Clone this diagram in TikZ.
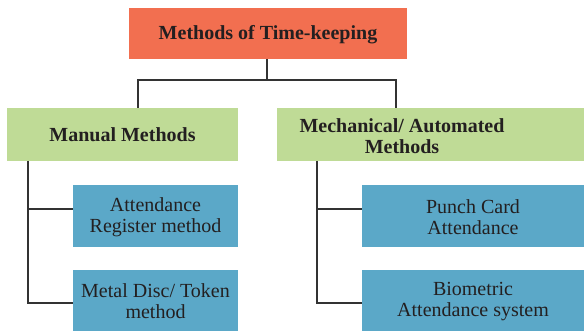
\documentclass[tikz,border=0pt]{standalone}
\usepackage{fontspec}
\setmainfont{Liberation Serif}
\definecolor{topc}{HTML}{F26F50}
\definecolor{grn}{HTML}{BFDB96}
\definecolor{blu}{HTML}{5BA8C8}
\definecolor{txt}{HTML}{231F20}
\definecolor{ln}{HTML}{333333}
\begin{document}
\begin{tikzpicture}[x=1pt,y=-1pt,
  box/.style={inner sep=0pt, align=center, text=txt},
  bold/.style={box, font=\bfseries\fontsize{20}{21}\selectfont},
  reg/.style={box, font=\fontsize{20}{21}\selectfont},
  conn/.style={draw=ln, line width=1.2pt}]
\useasboundingbox (0,0) rectangle (584,331);
% boxes
\fill[topc] (129,8) rectangle (407,59);
\node[bold] (top) at (268,35) {Methods of Time-keeping};
\fill[grn] (7,108) rectangle (238,161);
\node[bold] (man) at (122.5,135) {Manual Methods};
\fill[grn] (277,108) rectangle (584,161);
\node[bold] (mech) at (402,136) {Mechanical/ Automated\\Methods};
\fill[blu] (73,185) rectangle (238,247);
\node[reg] (att) at (155.5,217) {Attendance\\Register method};
\fill[blu] (73,270) rectangle (238,331);
\node[reg] (met) at (155.5,301.5) {Metal Disc/ Token\\method};
\fill[blu] (362,185) rectangle (584,247);
\node[reg] (pun) at (473,217) {Punch Card\\Attendance};
\fill[blu] (362,270) rectangle (584,331);
\node[reg] (bio) at (473,301.5) {Biometric\\Attendance system};
% connectors
\coordinate (t0) at (267,59);
\coordinate (j) at (267,80);
\coordinate (jl) at (138,80);
\coordinate (jr) at (396,80);
\draw[conn] (t0) -- (j);
\draw[conn] (138,108) -- (jl) -- (jr) -- (396,108);
\draw[conn] (28,161) -- (28,303) -- (73,303);
\draw[conn] (28,209) -- (73,209);
\draw[conn] (317,161) -- (317,303) -- (362,303);
\draw[conn] (317,209) -- (362,209);
\end{tikzpicture}
\end{document}
